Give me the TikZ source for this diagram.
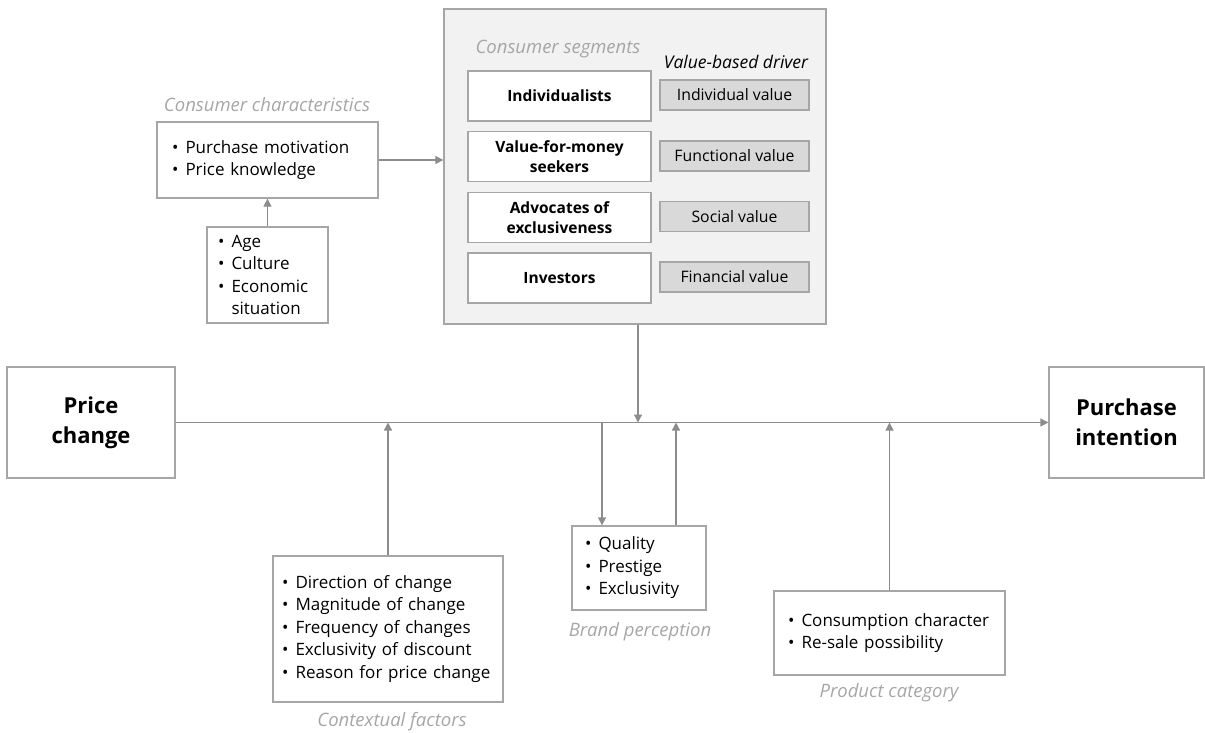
\documentclass[tikz,border=0pt]{standalone}
\usepackage{fontspec}
\setmainfont{Open Sans}
\usetikzlibrary{arrows.meta,positioning}

\definecolor{boxline}{HTML}{A6A6A6}
\definecolor{arrowgray}{HTML}{8C8C8C}
\definecolor{panelfill}{HTML}{F2F2F2}
\definecolor{valuefill}{HTML}{D9D9D9}
\definecolor{lblgray}{HTML}{A6A6A6}

\newcommand{\blt}{\makebox[13.5pt][l]{•}}
\newcommand{\bltgap}{\makebox[13.5pt][l]{}}

\tikzset{
  box/.style={draw=boxline, line width=1.3pt, fill=white, inner sep=0pt},
  listbox/.style={box, align=left, font=\fontsize{17}{22.5}\selectfont},
  mainbox/.style={box, align=center, font=\bfseries\fontsize{22}{30}\selectfont},
  segbox/.style={box, align=center, minimum width=183pt, minimum height=50pt,
    font=\bfseries\fontsize{15.5}{20}\selectfont},
  valbox/.style={box, fill=valuefill, align=center, minimum width=149pt,
    minimum height=30pt, font=\fontsize{15.8}{18}\selectfont},
  lbl/.style={text=lblgray, font=\itshape\fontsize{18.5}{20}\selectfont},
  conn/.style={draw=arrowgray, line width=1.3pt, ->},
  >={Triangle[length=8pt,width=8pt]}
}

\begin{document}
\begin{tikzpicture}[x=1pt, y=-1pt]
    \useasboundingbox (0,0) rectangle (1205,732);

    % main line ends
    \node[mainbox, minimum width=168pt, minimum height=111pt] (price) at (91, 422.5) {Price\\change};
    \node[mainbox, minimum width=155pt, minimum height=111pt] (purchase) at (1126.5, 422.5) {Purchase\\intention};

    % consumer segments panel
    \node[box, fill=panelfill, minimum width=382pt, minimum height=315pt] (panel) at (635, 166.5) {};
    \node[lbl] (seglbl) at (558, 49) {Consumer segments};
    \node[font=\itshape\fontsize{17.5}{20}\selectfont] (drvlbl) at (736, 62) {Value-based driver};

    \node[segbox] (seg1) at (559.5, 96) {Individualists};
    \node[segbox] (seg2) at (559.5, 156.5) {Value-for-money\\seekers};
    \node[segbox] (seg3) at (559.5, 217.5) {Advocates of\\exclusiveness};
    \node[segbox] (seg4) at (559.5, 278) {Investors};

    \node[valbox] (val1) at (734.5, 95) {Individual value};
    \node[valbox] (val2) at (734.5, 156) {Functional value};
    \node[valbox] (val3) at (734.5, 216.5) {Social value};
    \node[valbox] (val4) at (734.5, 277) {Financial value};

    % consumer characteristics
    \node[listbox, text width=191pt, inner xsep=15pt, minimum height=76pt] (chars) at (267.5, 160)
        {\blt Purchase motivation\\\blt Price knowledge};
    \node[lbl] (charslbl) at (267, 105) {Consumer characteristics};
    \node[listbox, text width=99pt, inner xsep=11pt, minimum height=96pt] (demo) at (267.5, 275)
        {\blt Age\\\blt Culture\\\blt Economic\\\bltgap situation};

    % moderators below the main line
    \node[listbox, text width=212pt, inner xsep=9pt, minimum height=146pt] (context) at (388, 629)
        {\blt Direction of change\\\blt Magnitude of change\\\blt Frequency of changes\\\blt Exclusivity of discount\\\blt Reason for price change};
    \node[lbl] (contextlbl) at (392, 722) {Contextual factors};

    \node[listbox, text width=108pt, inner xsep=13pt, minimum height=84pt] (brand) at (639, 568)
        {\blt Quality\\\blt Prestige\\\blt Exclusivity};
    \node[lbl] (brandlbl) at (640, 632) {Brand perception};

    \node[listbox, text width=203pt, inner xsep=14pt, minimum height=84pt] (product) at (889.5, 633)
        {\blt Consumption character\\\blt Re-sale possibility};
    \node[lbl] (productlbl) at (889, 693) {Product category};

    % points on the main line
    \coordinate (jpanel) at (638, 422.5);
    \coordinate (jcontext) at (388, 422.5);
    \coordinate (jbrdown) at (602, 422.5);
    \coordinate (jbrup) at (676, 422.5);
    \coordinate (jproduct) at (889.5, 422.5);

    \draw[conn] (price) -- (purchase);
    \draw[conn] (jpanel |- panel.south) -- (jpanel);
    \draw[conn] (context) -- (jcontext);
    \draw[conn] (jbrdown) -- (jbrdown |- brand.north);
    \draw[conn] (jbrup |- brand.north) -- (jbrup);
    \draw[conn] (product) -- (jproduct);
    \draw[conn] (chars) -- (chars -| panel.west);
    \draw[conn] (demo) -- (chars);
\end{tikzpicture}
\end{document}
